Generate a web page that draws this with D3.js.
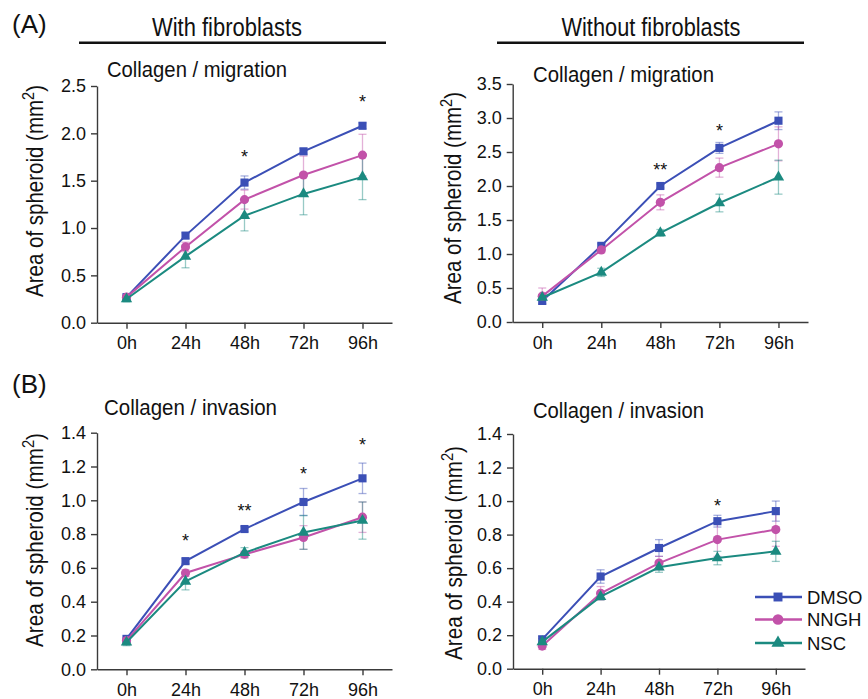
<!DOCTYPE html>
<html>
<head>
<meta charset="utf-8">
<script src="https://cdn.jsdelivr.net/npm/d3@7"></script>
<style>
body { margin: 0; background: #fff; }
text { font-family: "Liberation Sans", Arial, sans-serif; fill: #111; }
</style>
</head>
<body>
<div id="fig"></div>
<script>
//Width and height
var w = 868;
var h = 699;

//Categories
var hours = ["0h", "24h", "48h", "72h", "96h"];
var groups = ["DMSO", "NNGH", "NSC"];
var colors = ["#3b4fb6", "#c252a9", "#1b8a80"];

//(A) with fibroblasts, collagen / migration
var migWithDMSO = [0.27, 0.92, 1.48, 1.81, 2.08];
var migWithNNGH = [0.27, 0.80, 1.30, 1.56, 1.77];
var migWithNSC  = [0.25, 0.70, 1.13, 1.36, 1.54];
var migWithDMSOErr = [0.02, 0.03, 0.07, 0.03, 0.03];
var migWithNNGHErr = [0.02, 0.05, 0.10, 0.20, 0.22];
var migWithNSCErr  = [0.03, 0.12, 0.16, 0.22, 0.24];
var migWithTicks = [0, 0.5, 1.0, 1.5, 2.0, 2.5];
var migWithStars = [["48h", 1.79, "*"], ["96h", 2.37, "*"]];

//(A) without fibroblasts, collagen / migration
var migWithoutDMSO = [0.31, 1.12, 2.00, 2.56, 2.96];
var migWithoutNNGH = [0.38, 1.06, 1.76, 2.27, 2.62];
var migWithoutNSC  = [0.36, 0.73, 1.31, 1.75, 2.13];
var migWithoutDMSOErr = [0.04, 0.03, 0.03, 0.08, 0.13];
var migWithoutNNGHErr = [0.12, 0.04, 0.11, 0.14, 0.25];
var migWithoutNSCErr  = [0.04, 0.06, 0.05, 0.13, 0.25];
var migWithoutTicks = [0, 0.5, 1.0, 1.5, 2.0, 2.5, 3.0, 3.5];
var migWithoutStars = [["48h", 2.29, "**"], ["72h", 2.87, "*"]];

//(B) with fibroblasts, collagen / invasion
var invWithDMSO = [0.18, 0.64, 0.83, 0.99, 1.13];
var invWithNNGH = [0.17, 0.57, 0.68, 0.78, 0.90];
var invWithNSC  = [0.16, 0.52, 0.69, 0.81, 0.88];
var invWithDMSOErr = [0.01, 0.015, 0.015, 0.08, 0.09];
var invWithNNGHErr = [0.01, 0.02, 0.02, 0.07, 0.09];
var invWithNSCErr  = [0.02, 0.05, 0.03, 0.10, 0.11];
var invWithTicks = [0, 0.2, 0.4, 0.6, 0.8, 1.0, 1.2, 1.4];
var invWithStars = [["24h", 0.785, "*"], ["48h", 0.96, "**"], ["72h", 1.18, "*"], ["96h", 1.35, "*"]];

//(B) without fibroblasts, collagen / invasion
var invWithoutDMSO = [0.175, 0.55, 0.72, 0.88, 0.94];
var invWithoutNNGH = [0.135, 0.45, 0.63, 0.77, 0.83];
var invWithoutNSC  = [0.16, 0.43, 0.605, 0.66, 0.70];
var invWithoutDMSOErr = [0.02, 0.04, 0.05, 0.035, 0.06];
var invWithoutNNGHErr = [0.02, 0.04, 0.04, 0.10, 0.10];
var invWithoutNSCErr  = [0.02, 0.02, 0.03, 0.04, 0.06];
var invWithoutTicks = [0, 0.2, 0.4, 0.6, 0.8, 1.0, 1.2, 1.4];
var invWithoutStars = [["72h", 0.996, "*"]];

//Panel layout
var panels = [
  { title: "Collagen / migration", tx: 107, ty: 77, tl: 180,
    x0: 97, x1: 392, y0: 322.7, y1: 86, ymax: 2.5, ticks: migWithTicks, fmt: ".1f",
    lx: 43, ly: 191, ll: 212,
    series: [migWithDMSO, migWithNNGH, migWithNSC],
    errs: [migWithDMSOErr, migWithNNGHErr, migWithNSCErr], stars: migWithStars },
  { title: "Collagen / migration", tx: 533, ty: 81.5, tl: 181,
    x0: 512.7, x1: 808, y0: 322, y1: 84, ymax: 3.5, ticks: migWithoutTicks, fmt: ".1f",
    lx: 461, ly: 198, ll: 212,
    series: [migWithoutDMSO, migWithoutNNGH, migWithoutNSC],
    errs: [migWithoutDMSOErr, migWithoutNNGHErr, migWithoutNSCErr], stars: migWithoutStars },
  { title: "Collagen / invasion", tx: 104, ty: 415, tl: 173,
    x0: 97, x1: 392, y0: 669.3, y1: 432.7, ymax: 1.4, ticks: invWithTicks, fmt: ".1f",
    lx: 43, ly: 540, ll: 214,
    series: [invWithDMSO, invWithNNGH, invWithNSC],
    errs: [invWithDMSOErr, invWithNNGHErr, invWithNSCErr], stars: invWithStars },
  { title: "Collagen / invasion", tx: 533, ty: 418, tl: 171,
    x0: 513, x1: 805, y0: 668.7, y1: 434, ymax: 1.4, ticks: invWithoutTicks, fmt: ".1f",
    lx: 462, ly: 553, ll: 214,
    series: [invWithoutDMSO, invWithoutNNGH, invWithoutNSC],
    errs: [invWithoutDMSOErr, invWithoutNNGHErr, invWithoutNSCErr], stars: invWithoutStars }
];

var shapes = [d3.symbolSquare, d3.symbolCircle, d3.symbolTriangle];
var shapeSize = [66, 66, 56];

//Create svg
var svg = d3.select("#fig")
  .append("svg")
  .attr("width", w)
  .attr("height", h);

//Panel letters
svg.append("text").attr("x", 12).attr("y", 33).attr("font-size", 26).text("(A)");
svg.append("text").attr("x", 12).attr("y", 393).attr("font-size", 26).text("(B)");

//Headers with rules
var headers = [
  { text: "With fibroblasts", cx: 227, len: 150, lx0: 79, lx1: 386 },
  { text: "Without fibroblasts", cx: 651, len: 179, lx0: 497, lx1: 804 }
];
headers.forEach(function(d) {
  svg.append("text")
    .attr("x", d.cx)
    .attr("y", 36)
    .attr("text-anchor", "middle")
    .attr("font-size", 25)
    .attr("textLength", d.len)
    .attr("lengthAdjust", "spacingAndGlyphs")
    .text(d.text);
  svg.append("line")
    .attr("x1", d.lx0).attr("x2", d.lx1)
    .attr("y1", 42.7).attr("y2", 42.7)
    .attr("stroke", "#111")
    .attr("stroke-width", 2.5);
});

panels.forEach(function(p) {
  var g = svg.append("g");

  var xScale = d3.scalePoint()
    .domain(hours)
    .range([p.x0, p.x1])
    .padding(0.5);

  var yScale = d3.scaleLinear()
    .domain([0, p.ymax])
    .range([p.y0, p.y1]);

  //Title
  g.append("text")
    .attr("x", p.tx)
    .attr("y", p.ty)
    .attr("font-size", 22)
    .attr("textLength", p.tl)
    .attr("lengthAdjust", "spacingAndGlyphs")
    .text(p.title);

  //Axes
  var yAxis = d3.axisLeft(yScale)
    .tickValues(p.ticks)
    .tickFormat(d3.format(p.fmt))
    .tickSize(6)
    .tickSizeOuter(0)
    .tickPadding(5);

  var xAxis = d3.axisBottom(xScale)
    .tickSize(6)
    .tickSizeOuter(0)
    .tickPadding(8);

  var ya = g.append("g")
    .attr("transform", "translate(" + p.x0 + ",0)")
    .call(yAxis);

  var xa = g.append("g")
    .attr("transform", "translate(0," + p.y0 + ")")
    .call(xAxis);

  [ya, xa].forEach(function(a) {
    a.attr("font-size", 18).attr("font-family", null);
    a.selectAll("path, line").attr("stroke", "#3a3a3a").attr("stroke-width", 1.4);
    a.selectAll("text").attr("fill", "#111");
  });

  //Y label
  var lab = g.append("text")
    .attr("transform", "translate(" + p.lx + "," + p.ly + ") rotate(-90)")
    .attr("text-anchor", "middle")
    .attr("font-size", 24)
    .attr("textLength", p.ll)
    .attr("lengthAdjust", "spacingAndGlyphs");
  lab.append("tspan").text("Area of spheroid (mm");
  lab.append("tspan").attr("baseline-shift", "super").attr("font-size", 17).text("2");
  lab.append("tspan").text(")");

  //Error bars
  p.series.forEach(function(vals, i) {
    var eg = g.append("g")
      .attr("stroke", colors[i])
      .attr("stroke-opacity", 0.45)
      .attr("stroke-width", 1.3);
    vals.forEach(function(v, j) {
      var x = xScale(hours[j]);
      var e = p.errs[i][j];
      eg.append("line").attr("x1", x).attr("x2", x)
        .attr("y1", yScale(v - e)).attr("y2", yScale(v + e));
      eg.append("line").attr("x1", x - 4).attr("x2", x + 4)
        .attr("y1", yScale(v - e)).attr("y2", yScale(v - e));
      eg.append("line").attr("x1", x - 4).attr("x2", x + 4)
        .attr("y1", yScale(v + e)).attr("y2", yScale(v + e));
    });
  });

  //Lines and markers
  var line = d3.line()
    .x(function(d, j) { return xScale(hours[j]); })
    .y(function(d) { return yScale(d); });

  p.series.forEach(function(vals, i) {
    g.append("path")
      .datum(vals)
      .attr("d", line)
      .attr("fill", "none")
      .attr("stroke", colors[i])
      .attr("stroke-width", 2);
    g.selectAll(".m" + i)
      .data(vals)
      .enter()
      .append("path")
      .attr("class", "m" + i)
      .attr("d", d3.symbol().type(shapes[i]).size(shapeSize[i]))
      .attr("transform", function(d, j) {
        return "translate(" + xScale(hours[j]) + "," + yScale(d) + ")";
      })
      .attr("fill", colors[i]);
  });

  //Significance marks
  g.selectAll(".star")
    .data(p.stars)
    .enter()
    .append("text")
    .attr("x", function(d) { return xScale(d[0]); })
    .attr("y", function(d) { return yScale(d[1]) + 10; })
    .attr("text-anchor", "middle")
    .attr("font-size", 18)
    .text(function(d) { return d[2]; });
});

//Legend
var legend = svg.append("g");
groups.forEach(function(name, i) {
  var y = [597, 619.5, 643][i];
  legend.append("line")
    .attr("x1", 755).attr("x2", 802)
    .attr("y1", y).attr("y2", y)
    .attr("stroke", colors[i])
    .attr("stroke-width", 2.5);
  legend.append("path")
    .attr("d", d3.symbol().type(shapes[i]).size([80, 90, 75][i]))
    .attr("transform", "translate(778," + y + ")")
    .attr("fill", colors[i]);
  legend.append("text")
    .attr("x", 807)
    .attr("y", y + 6.5)
    .attr("font-size", 18.5)
    .text(name);
});
</script>
</body>
</html>
